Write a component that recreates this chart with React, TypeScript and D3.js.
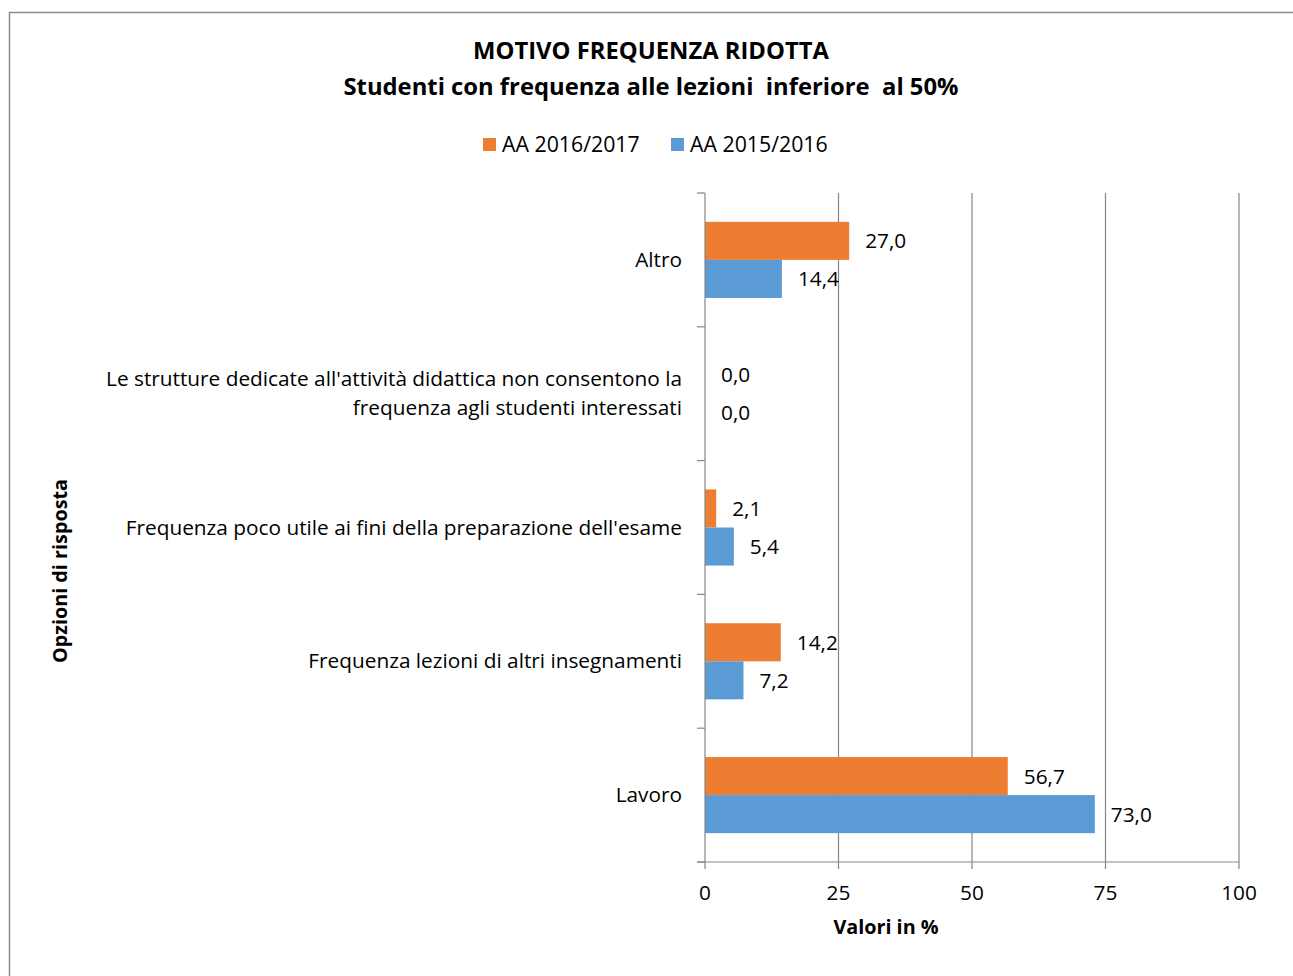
import React from "react";
import * as d3 from "d3";

const WIDTH = 1293;
const HEIGHT = 976;

// data
const categories = [
  "Altro",
  "Le strutture dedicate all'attività didattica non consentono la|frequenza agli studenti interessati",
  "Frequenza poco utile ai fini della preparazione dell'esame",
  "Frequenza lezioni di altri insegnamenti",
  "Lavoro",
];
const series = ["AA 2016/2017", "AA 2015/2016"];
const values2017 = [27.0, 0.0, 2.1, 14.2, 56.7];
const values2016 = [14.4, 0.0, 5.4, 7.2, 73.0];
const xTicks = [0, 25, 50, 75, 100];
const colors = ["#ED7D31", "#5B9BD5"];

const FONT = "'Open Sans', sans-serif";
const FS = 20.8;

export default function App() {
  const margin = { top: 193, left: 705, right: 54, bottom: 114 };
  const width = WIDTH - margin.left - margin.right;
  const height = HEIGHT - margin.top - margin.bottom;

  const x = d3.scaleLinear().domain([0, 100]).range([0, width]);
  const y = d3.scaleBand().domain(categories).range([0, height]).padding(0);
  const sub = d3
    .scaleBand()
    .domain(series)
    .range([0, y.bandwidth()])
    .paddingInner(0)
    .paddingOuter(0.758);

  const rows = categories.map((c, i) => ({
    cat: c,
    vals: [values2017[i], values2016[i]],
  }));

  const fmt = (v: number) => v.toFixed(1).replace(".", ",");

  return (
    <svg
      width={WIDTH}
      height={HEIGHT}
      style={{ position: "absolute", left: 0, top: 0, background: "#fff" }}
      fontFamily={FONT}
    >
      {/* chart frame */}
      <rect x={9.5} y={12.5} width={1300} height={1000} fill="none" stroke="#8c8c8c" strokeWidth={1.5} />

      {/* title */}
      <text x={651} y={59} textAnchor="middle" fontSize={23.8} fontWeight="bold" fill="#000" style={{ whiteSpace: "pre" }}>
        MOTIVO FREQUENZA RIDOTTA
      </text>
      <text x={651} y={95} textAnchor="middle" fontSize={23.8} fontWeight="bold" fill="#000" style={{ whiteSpace: "pre" }}>
        {"Studenti con frequenza alle lezioni  inferiore  al 50%"}
      </text>

      {/* legend */}
      {series.map((s, i) => (
        <g key={s} transform={`translate(${483 + i * 188},138)`}>
          <rect width={13} height={13} fill={colors[i]} />
          <text x={19} y={14} fontSize={21.3} fill="#000">
            {s}
          </text>
        </g>
      ))}

      <g transform={`translate(${margin.left},${margin.top})`}>
        {/* gridlines */}
        {xTicks.slice(1).map((t) => (
          <line key={t} x1={x(t)} x2={x(t)} y1={0} y2={height} stroke="#868686" strokeWidth={1.2} />
        ))}

        {/* bars */}
        {rows.map((r) => (
          <g key={r.cat} transform={`translate(0,${y(r.cat)})`}>
            {r.vals.map((v, j) => (
              <g key={j}>
                <rect
                  x={0}
                  y={sub(series[j])}
                  width={x(v)}
                  height={sub.bandwidth()}
                  fill={colors[j]}
                />
                <text
                  x={x(v) + 16}
                  y={(sub(series[j]) as number) + sub.bandwidth() / 2 + 7.5}
                  fontSize={FS}
                  fill="#000"
                >
                  {fmt(v)}
                </text>
              </g>
            ))}
          </g>
        ))}

        {/* y axis */}
        <line x1={0} x2={0} y1={0} y2={height} stroke="#868686" strokeWidth={1.2} />
        {d3.range(categories.length + 1).map((i) => {
          const yy = i * y.step();
          return <line key={i} x1={-8} x2={0} y1={yy} y2={yy} stroke="#868686" strokeWidth={1.2} />;
        })}
        {categories.map((c) => {
          const lines = c.split("|");
          const cy = (y(c) as number) + y.bandwidth() / 2;
          return (
            <text key={c} textAnchor="end" fontSize={FS} fill="#000">
              {lines.map((l, k) => (
                <tspan key={k} x={-23} y={cy + 7 + (k - (lines.length - 1) / 2) * 29}>
                  {l}
                </tspan>
              ))}
            </text>
          );
        })}

        {/* x axis */}
        <line x1={-8} x2={width} y1={height} y2={height} stroke="#868686" strokeWidth={1.2} />
        {xTicks.map((t) => (
          <g key={t}>
            <line x1={x(t)} x2={x(t)} y1={height} y2={height + 7} stroke="#868686" strokeWidth={1.2} />
            <text x={x(t)} y={height + 38} textAnchor="middle" fontSize={FS} fill="#000">
              {t}
            </text>
          </g>
        ))}
      </g>

      {/* axis titles */}
      <text x={886} y={934} textAnchor="middle" fontSize={19.8} fontWeight="bold" fill="#000">
        Valori in %
      </text>
      <text
        transform="translate(67,571) rotate(-90)"
        textAnchor="middle"
        fontSize={19.8}
        fontWeight="bold"
        fill="#000"
      >
        Opzioni di risposta
      </text>
    </svg>
  );
}
